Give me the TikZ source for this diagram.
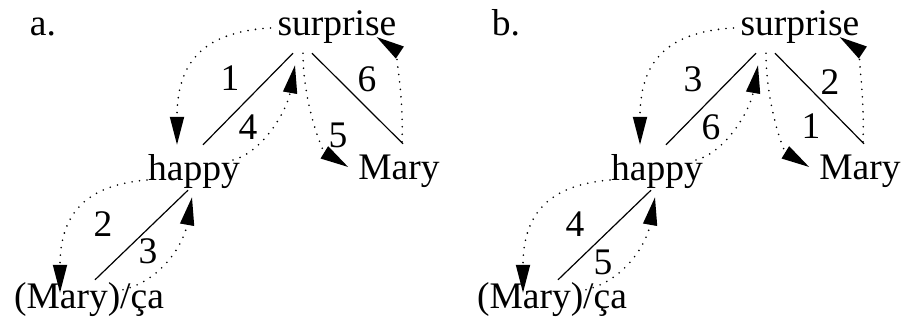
\documentclass[tikz,border=0pt]{standalone}
\usepackage{fontspec}
\setmainfont{Liberation Serif}
\usetikzlibrary{arrows.meta}

\begin{document}
\begin{tikzpicture}[
    x=1pt, y=-1pt,
    every node/.style={font=\fontsize{37.5}{40}\selectfont},
    word/.style={
        inner xsep=0pt,
        inner ysep=9pt,
        text height=26pt,
        text depth=8pt,
        anchor=base
    },
    num/.style={inner sep=0pt},
    branch/.style={line width=1.2pt},
    move/.style={line width=1.8pt, line cap=round, dash pattern=on 0pt off 7.5pt,
        -{Triangle[length=28pt, width=14pt]}}
]
\useasboundingbox (0,0) rectangle (906,327);

% panel a
\node[word] (tagA) at (43,35) {a.};
\node[word] (surpriseA) at (337,35) {surprise};
\node[word] (happyA) at (194,180) {happy};
\node[word] (maryA) at (399,179) {Mary};
\node[word] (caA) at (89,308) {(Mary)/ça};

\draw[branch] ([shift={(-44,1)}]surpriseA.south) -- ([shift={(9,0)}]happyA.north);
\draw[branch] ([shift={(-25,1)}]surpriseA.south) -- ([shift={(4,0)}]maryA.north);
\draw[branch] ([shift={(-6,-7)}]happyA.south) -- ([shift={(6,7)}]caA.north);

\draw[move] ([shift={(-7,-7)}]surpriseA.base west) .. controls +(-70,4) and +(0,-80) .. ([shift={(-17,0)}]happyA.north);
\draw[move] ([shift={(-1,0)}]happyA.base west) .. controls +(-60,5) and +(0,-80) .. ([shift={(-29,20)}]caA.north);
\draw[move] ([shift={(34,17)}]caA.north) .. controls +(40,-10) and +(-8,45) .. ([shift={(-2,0)}]happyA.south);
\draw[move] ([shift={(-7,-11)}]happyA.east) .. controls +(30,-8) and +(-8,45) .. ([shift={(-42,13)}]surpriseA.south);
\draw[move] ([shift={(-34,1)}]surpriseA.south) .. controls +(0,50) and +(-26,-16) .. ([shift={(-10,-3)}]maryA.west);
\draw[move] ([shift={(3,-2)}]maryA.north) .. controls +(2,-60) and +(15,10) .. ([shift={(-20,2)}]surpriseA.base east);

\node[num] (oneA) at (230,78) {1};
\node[num] (twoA) at (103,224) {2};
\node[num] (threeA) at (148,251) {3};
\node[num] (fourA) at (248,127) {4};
\node[num] (fiveA) at (338,135) {5};
\node[num] (sixA) at (367,79) {6};

% panel b
\begin{scope}[shift={(463,0)}]
\node[word] (tagB) at (43,35) {b.};
\node[word] (surpriseB) at (337,35) {surprise};
\node[word] (happyB) at (194,180) {happy};
\node[word] (maryB) at (397,179) {Mary};
\node[word] (caB) at (89,308) {(Mary)/ça};

\draw[branch] ([shift={(-44,1)}]surpriseB.south) -- ([shift={(9,0)}]happyB.north);
\draw[branch] ([shift={(-25,1)}]surpriseB.south) -- ([shift={(4,0)}]maryB.north);
\draw[branch] ([shift={(-6,-7)}]happyB.south) -- ([shift={(6,7)}]caB.north);

\draw[move] ([shift={(-7,-7)}]surpriseB.base west) .. controls +(-70,4) and +(0,-80) .. ([shift={(-17,0)}]happyB.north);
\draw[move] ([shift={(-1,0)}]happyB.base west) .. controls +(-60,5) and +(0,-80) .. ([shift={(-29,20)}]caB.north);
\draw[move] ([shift={(34,17)}]caB.north) .. controls +(40,-10) and +(-8,45) .. ([shift={(-2,0)}]happyB.south);
\draw[move] ([shift={(-7,-11)}]happyB.east) .. controls +(30,-8) and +(-8,45) .. ([shift={(-42,13)}]surpriseB.south);
\draw[move] ([shift={(-34,1)}]surpriseB.south) .. controls +(0,50) and +(-26,-16) .. ([shift={(-10,-3)}]maryB.west);
\draw[move] ([shift={(3,-2)}]maryB.north) .. controls +(2,-60) and +(15,10) .. ([shift={(-20,2)}]surpriseB.base east);

\node[num] (oneB) at (348,126) {1};
\node[num] (twoB) at (367,82) {2};
\node[num] (threeB) at (230,79) {3};
\node[num] (fourB) at (112,224) {4};
\node[num] (fiveB) at (140,262) {5};
\node[num] (sixB) at (248,127) {6};
\end{scope}

\end{tikzpicture}
\end{document}
